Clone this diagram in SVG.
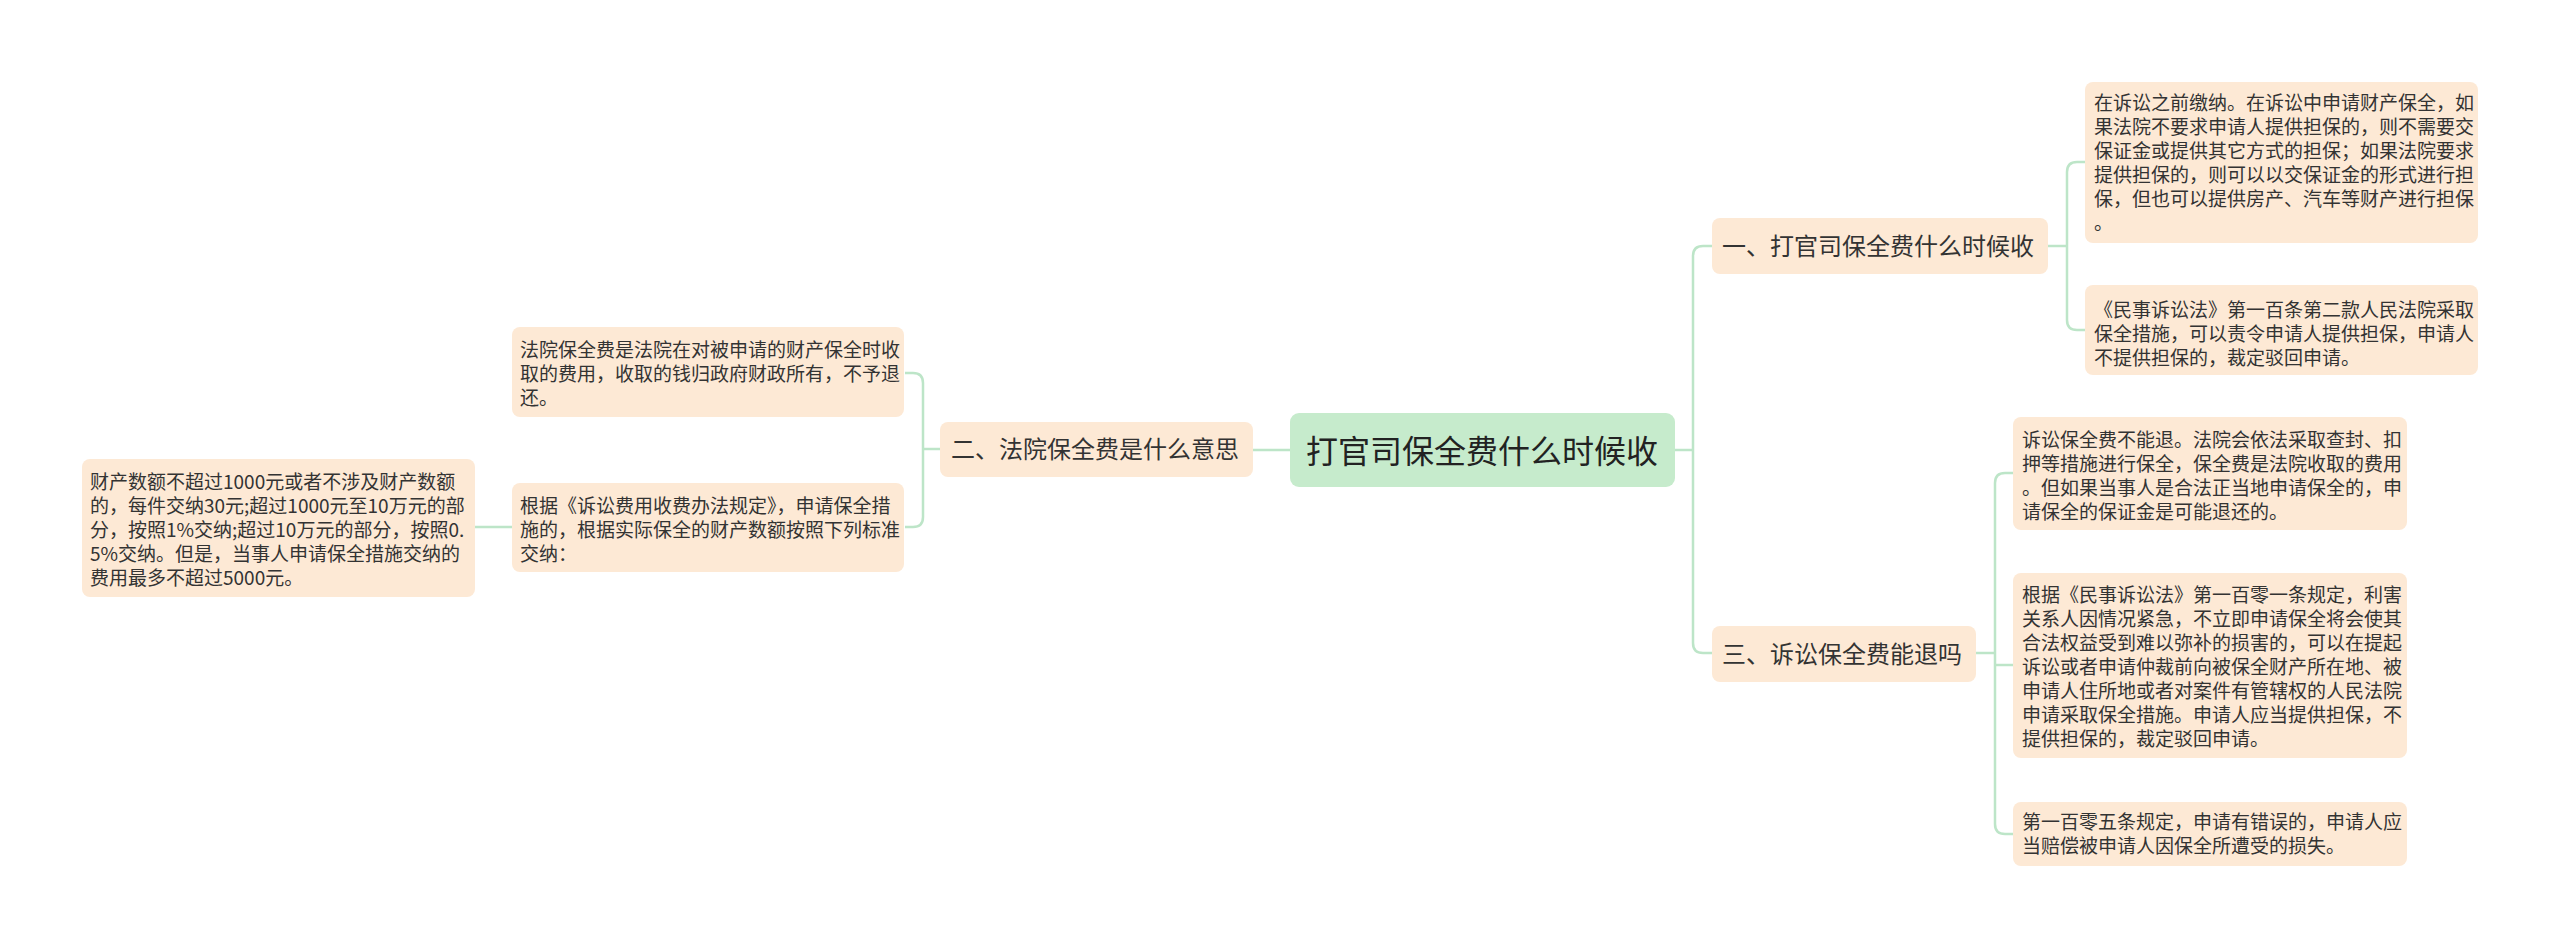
<svg xmlns="http://www.w3.org/2000/svg" width="2560" height="948" viewBox="0 0 2560 948">
<style>
.bg{fill:#ffffff}
.leaf{fill:#fde9d5}
.root{fill:#c6ebcc}
.t{font-family:"Noto Sans CJK SC","Noto Sans",sans-serif;fill:#333333}
.s{font-size:19px}
.m{font-size:24px}
.r{font-size:32px;fill:#222222}
.c{fill:none;stroke:#bde5c8;stroke-width:2.5}
</style>
<rect class="bg" x="0" y="0" width="2560" height="948"/>
<g id="connectors">
<path class="c" d="M1675,450 H1693"/>
<path class="c" d="M1712,246 H1703 Q1693,246 1693,256 V643 Q1693,653 1703,653 H1712"/>
<path class="c" d="M2048,246 H2067"/>
<path class="c" d="M2085,162 H2077 Q2067,162 2067,172 V320 Q2067,330 2077,330 H2085"/>
<path class="c" d="M1976,653 H1995"/>
<path class="c" d="M2013,473 H2005 Q1995,473 1995,483 V824 Q1995,834 2005,834 H2013"/>
<path class="c" d="M1995,665 H2013"/>
<path class="c" d="M1290,450 H1253"/>
<path class="c" d="M940,449 H923"/>
<path class="c" d="M905,373 H913 Q923,373 923,383 V517 Q923,527 913,527 H905"/>
<path class="c" d="M512,527 H475"/>
</g>
<g id="root">
<rect class="root" x="1290" y="413" width="385" height="74" rx="9"/>
<text class="t r" x="1306" y="463">打官司保全费什么时候收</text>
</g>
<g id="b1">
<rect class="leaf" x="1712" y="218" width="336" height="56" rx="8"/>
<text class="t m" x="1722" y="255">一、打官司保全费什么时候收</text>
</g>
<g id="b2">
<rect class="leaf" x="940" y="422" width="313" height="55" rx="8"/>
<text class="t m" x="951" y="458">二、法院保全费是什么意思</text>
</g>
<g id="b3">
<rect class="leaf" x="1712" y="626" width="264" height="56" rx="8"/>
<text class="t m" x="1722" y="663">三、诉讼保全费能退吗</text>
</g>
<g id="n1a">
<rect class="leaf" x="2085" y="82" width="393" height="161" rx="8"/>
<text class="t s" x="2094"><tspan x="2094" y="110">在诉讼之前缴纳。在诉讼中申请财产保全，如</tspan><tspan x="2094" y="134">果法院不要求申请人提供担保的，则不需要交</tspan><tspan x="2094" y="158">保证金或提供其它方式的担保；如果法院要求</tspan><tspan x="2094" y="182">提供担保的，则可以以交保证金的形式进行担</tspan><tspan x="2094" y="206">保，但也可以提供房产、汽车等财产进行担保</tspan><tspan x="2094" y="230">。</tspan></text>
</g>
<g id="n1b">
<rect class="leaf" x="2085" y="285" width="393" height="90" rx="8"/>
<text class="t s"><tspan x="2094" y="317">《民事诉讼法》第一百条第二款人民法院采取</tspan><tspan x="2094" y="341">保全措施，可以责令申请人提供担保，申请人</tspan><tspan x="2094" y="365">不提供担保的，裁定驳回申请。</tspan></text>
</g>
<g id="n3a">
<rect class="leaf" x="2013" y="417" width="394" height="113" rx="8"/>
<text class="t s"><tspan x="2022" y="447">诉讼保全费不能退。法院会依法采取查封、扣</tspan><tspan x="2022" y="471">押等措施进行保全，保全费是法院收取的费用</tspan><tspan x="2022" y="495">。但如果当事人是合法正当地申请保全的，申</tspan><tspan x="2022" y="519">请保全的保证金是可能退还的。</tspan></text>
</g>
<g id="n3b">
<rect class="leaf" x="2013" y="573" width="394" height="185" rx="8"/>
<text class="t s"><tspan x="2022" y="602">根据《民事诉讼法》第一百零一条规定，利害</tspan><tspan x="2022" y="626">关系人因情况紧急，不立即申请保全将会使其</tspan><tspan x="2022" y="650">合法权益受到难以弥补的损害的，可以在提起</tspan><tspan x="2022" y="674">诉讼或者申请仲裁前向被保全财产所在地、被</tspan><tspan x="2022" y="698">申请人住所地或者对案件有管辖权的人民法院</tspan><tspan x="2022" y="722">申请采取保全措施。申请人应当提供担保，不</tspan><tspan x="2022" y="746">提供担保的，裁定驳回申请。</tspan></text>
</g>
<g id="n3c">
<rect class="leaf" x="2013" y="802" width="394" height="64" rx="8"/>
<text class="t s"><tspan x="2022" y="829">第一百零五条规定，申请有错误的，申请人应</tspan><tspan x="2022" y="853">当赔偿被申请人因保全所遭受的损失。</tspan></text>
</g>
<g id="n2a">
<rect class="leaf" x="512" y="327" width="392" height="90" rx="8"/>
<text class="t s"><tspan x="520" y="357">法院保全费是法院在对被申请的财产保全时收</tspan><tspan x="520" y="381">取的费用，收取的钱归政府财政所有，不予退</tspan><tspan x="520" y="405">还。</tspan></text>
</g>
<g id="n2b">
<rect class="leaf" x="512" y="483" width="392" height="89" rx="8"/>
<text class="t s"><tspan x="520" y="513">根据《诉讼费用收费办法规定》，申请保全措</tspan><tspan x="520" y="537">施的，根据实际保全的财产数额按照下列标准</tspan><tspan x="520" y="561">交纳：</tspan></text>
</g>
<g id="n2b1">
<rect class="leaf" x="82" y="459" width="393" height="138" rx="8"/>
<text class="t s"><tspan x="90" y="489">财产数额不超过1000元或者不涉及财产数额</tspan><tspan x="90" y="513">的，每件交纳30元;超过1000元至10万元的部</tspan><tspan x="90" y="537">分，按照1%交纳;超过10万元的部分，按照0.</tspan><tspan x="90" y="561">5%交纳。但是，当事人申请保全措施交纳的</tspan><tspan x="90" y="585">费用最多不超过5000元。</tspan></text>
</g>
</svg>
